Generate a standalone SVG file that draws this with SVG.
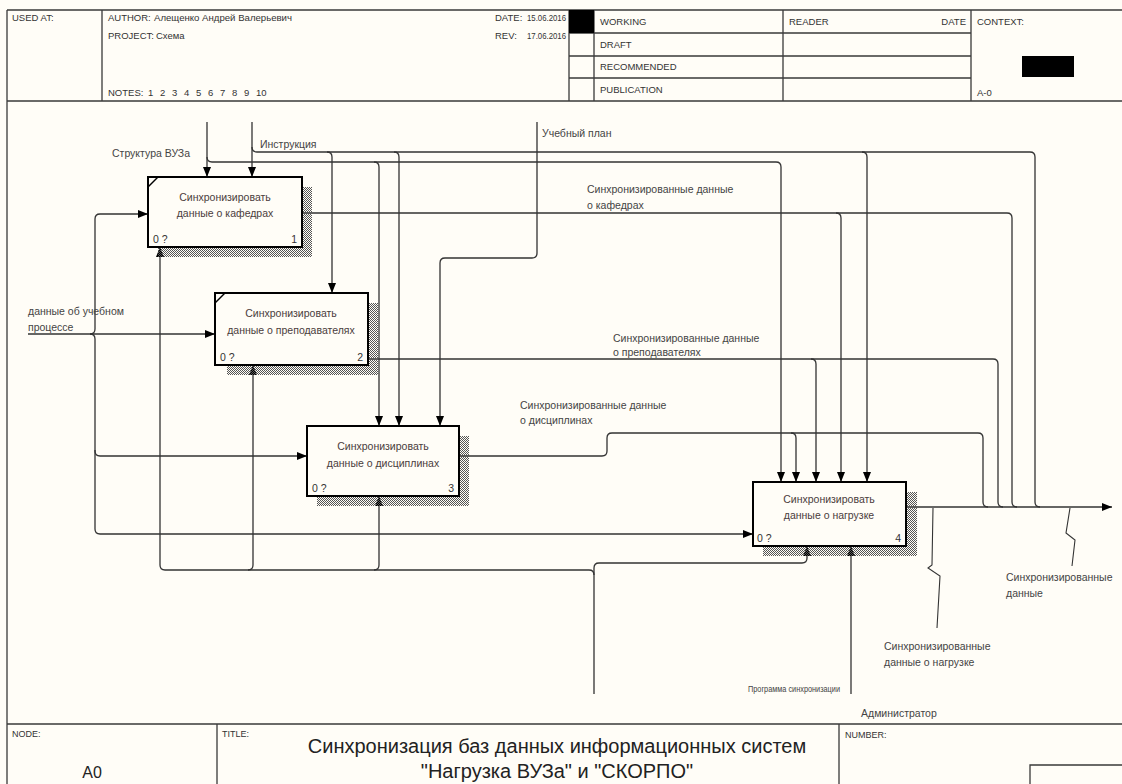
<svg xmlns="http://www.w3.org/2000/svg" width="1122" height="784" viewBox="0 0 1122 784">
<defs>
<style>
.bg{fill:#fffdf7}
.fr{fill:none;stroke:#3a3a3a;stroke-width:1.3}
.hd{font-family:"Liberation Sans",Arial,sans-serif;font-size:9.5px;fill:#333}
.sm{font-family:"Liberation Sans",Arial,sans-serif;font-size:9px;fill:#333}
.box{fill:#fffdf7;stroke:#000;stroke-width:2}
.sh{fill:url(#hatch)}
.bt{font-family:"Liberation Sans",Arial,sans-serif;font-size:10.5px;fill:#4a3c3c;text-anchor:middle}
.bn{font-family:"Liberation Sans",Arial,sans-serif;font-size:10.5px;fill:#333}
.lb{font-family:"Liberation Sans",Arial,sans-serif;font-size:10.5px;fill:#444}
.ar{fill:none;stroke:#333;stroke-width:1.3}
.arm{fill:none;stroke:#333;stroke-width:1.3;marker-end:url(#ah)}
.ld{fill:none;stroke:#333;stroke-width:1.1}
.ttl{font-family:"Liberation Sans",Arial,sans-serif;font-size:20px;fill:#222;text-anchor:middle}
</style>
<pattern id="hatch" width="2" height="2" patternUnits="userSpaceOnUse">
<rect x="0" y="0" width="1" height="1" fill="#555"/>
<rect x="1" y="1" width="1" height="1" fill="#555"/>
</pattern>
<marker id="ah" markerWidth="10" markerHeight="8" refX="10" refY="4" orient="auto" markerUnits="userSpaceOnUse">
<path d="M0,0 L10,4 L0,8 z" fill="#000"/>
</marker>
</defs>
<rect class="bg" x="0" y="0" width="1122" height="784"/>

<g id="header">
<path class="fr" d="M7,10 H1122 M7,101 H1122 M7,10 V784 M102,10 V101 M569,10 V101 M594,10 V101 M783,10 V101 M971,10 V101 M569,33 H971 M569,56 H971 M569,78 H971"/>
<rect x="569" y="10" width="25" height="23" fill="#000"/>
<rect x="1022" y="56" width="52" height="21" fill="#000"/>
<text class="hd" x="12" y="21">USED AT:</text>
<text class="hd" x="108" y="21">AUTHOR:</text>
<text class="hd" x="154" y="21" textLength="138" lengthAdjust="spacingAndGlyphs">Алещенко Андрей Валерьевич</text>
<text class="hd" x="108" y="39">PROJECT:</text>
<text class="hd" x="156" y="39">Схема</text>
<text class="hd" x="108" y="96">NOTES:</text>
<text class="hd" y="96"><tspan x="148">1</tspan><tspan x="160">2</tspan><tspan x="172">3</tspan><tspan x="184">4</tspan><tspan x="196">5</tspan><tspan x="208">6</tspan><tspan x="220">7</tspan><tspan x="232">8</tspan><tspan x="244">9</tspan><tspan x="256">10</tspan></text>
<text class="hd" x="495" y="21">DATE:</text>
<text class="hd" x="527" y="21" textLength="39" lengthAdjust="spacingAndGlyphs">15.06.2016</text>
<text class="hd" x="495" y="39">REV:</text>
<text class="hd" x="527" y="39" textLength="39" lengthAdjust="spacingAndGlyphs">17.06.2016</text>
<text class="hd" x="600" y="25">WORKING</text>
<text class="hd" x="600" y="48">DRAFT</text>
<text class="hd" x="600" y="70">RECOMMENDED</text>
<text class="hd" x="600" y="93">PUBLICATION</text>
<text class="hd" x="789" y="25">READER</text>
<text class="hd" x="966" y="25" text-anchor="end">DATE</text>
<text class="hd" x="977" y="25">CONTEXT:</text>
<text class="hd" x="977" y="96">A-0</text>
</g>

<g id="footer">
<path class="fr" d="M7,724 H1122 M217,724 V784 M839,724 V784 M1030,784 V765 H1122"/>
<text class="sm" x="12" y="737">NODE:</text>
<text x="92" y="778" text-anchor="middle" style="font-family:'Liberation Sans',Arial,sans-serif;font-size:16px;fill:#222">A0</text>
<text class="sm" x="222" y="737">TITLE:</text>
<text class="ttl" x="557" y="753">Синхронизация баз данных информационных систем</text>
<text class="ttl" x="557" y="778">"Нагрузка ВУЗа" и "СКОРПО"</text>
<text class="sm" x="845" y="738">NUMBER:</text>
</g>

<g id="connectors">
<path class="arm" d="M207,122 L207,177"/>
<path class="arm" d="M207,157 Q207,162 212,162 L776,162 Q781,162 781,167 L781,482"/>
<path class="arm" d="M374,162 Q379,162 379,167 L379,426"/>
<path class="arm" d="M252,122 L252,177"/>
<path class="ar" d="M252,147 Q252,152 257,152 L1030,152 Q1035,152 1035,157 L1035,502 Q1035,507 1040,507"/>
<path class="arm" d="M327,152 Q332,152 332,157 L332,293"/>
<path class="arm" d="M394,152 Q399,152 399,157 L399,426"/>
<path class="arm" d="M862,152 Q867,152 867,157 L867,482"/>
<path class="arm" d="M537,122 L537,253 Q537,258 532,258 L445,258 Q440,258 440,263 L440,426"/>
<path class="ar" d="M302,213 L1007,213 Q1012,213 1012,218 L1012,502 Q1012,507 1017,507"/>
<path class="arm" d="M836,213 Q841,213 841,218 L841,482"/>
<path class="ar" d="M368,359 L993,359 Q998,359 998,364 L998,502 Q998,507 1003,507"/>
<path class="arm" d="M811,359 Q816,359 816,364 L816,482"/>
<path class="ar" d="M459,456 L602,456 Q607,456 607,451 L607,438 Q607,433 612,433 L978,433 Q983,433 983,438 L983,502 Q983,507 988,507"/>
<path class="arm" d="M791,433 Q796,433 796,438 L796,482"/>
<path class="arm" d="M906,507 L1112,507"/>
<path class="arm" d="M28,334 L215,334"/>
<path class="arm" d="M90,334 Q95,334 95,329 L95,219 Q95,214 100,214 L148,214"/>
<path class="arm" d="M90,334 Q95,334 95,339 L95,451 Q95,456 100,456 L307,456"/>
<path class="arm" d="M95,450 L95,529 Q95,534 100,534 L753,534"/>
<path class="arm" d="M594,694 L594,568 Q594,563 599,563 L802,563 Q807,563 807,558 L807,546"/>
<path class="arm" d="M594,575 Q594,570 589,570 L165,570 Q160,570 160,565 L160,247"/>
<path class="arm" d="M248,570 Q253,570 253,565 L253,365"/>
<path class="arm" d="M374,570 Q379,570 379,565 L379,496"/>
<path class="arm" d="M851,694 L851,546"/>
<path class="ld" d="M933,508 L932,565 L928,568 L940,576 L937,628"/>
<path class="ld" d="M1070,508 L1066,533 L1075,540 L1072,566"/>
</g>

<g id="labels">
<text class="lb" x="112" y="157">Структура ВУЗа</text>
<text class="lb" x="260" y="148">Инструкция</text>
<text class="lb" x="542" y="137">Учебный план</text>
<text class="lb" x="587" y="193">Синхронизированные данные</text>
<text class="lb" x="587" y="209">о кафедрах</text>
<text class="lb" x="613" y="342">Синхронизированные данные</text>
<text class="lb" x="613" y="356">о преподавателях</text>
<text class="lb" x="520" y="409">Синхронизированные данные</text>
<text class="lb" x="520" y="424">о дисциплинах</text>
<text class="lb" x="28" y="315">данные об учебном</text>
<text class="lb" x="28" y="331">процессе</text>
<text class="lb" x="1006" y="581">Синхронизированные</text>
<text class="lb" x="1006" y="597">данные</text>
<text class="lb" x="884" y="650">Синхронизированные</text>
<text class="lb" x="884" y="666">данные о нагрузке</text>
<text class="lb" x="748" y="692" textLength="92" lengthAdjust="spacingAndGlyphs" style="font-size:9.5px">Программа синхронизации</text>
<text class="lb" x="861" y="717">Администратор</text>
</g>

<g id="node1">
<path class="sh" d="M302,187 H312 V257 H158 V247 H302 Z"/>
<rect class="box" x="148" y="177" width="154" height="70"/>
<path d="M148,187 L158,177" stroke="#000" stroke-width="1.5"/>
<text class="bt" x="225" y="201">Синхронизировать</text>
<text class="bt" x="225" y="217">данные о кафедрах</text>
<text class="bn" x="153" y="243">0 ?</text>
<text class="bn" x="297" y="243" text-anchor="end">1</text>
</g>

<g id="node2">
<path class="sh" d="M368,303 H378 V375 H227 V365 H368 Z"/>
<rect class="box" x="215" y="293" width="153" height="72"/>
<path d="M215,303 L225,293" stroke="#000" stroke-width="1.5"/>
<text class="bt" x="291" y="317">Синхронизировать</text>
<text class="bt" x="291" y="334">данные о преподавателях</text>
<text class="bn" x="220" y="361">0 ?</text>
<text class="bn" x="363" y="361" text-anchor="end">2</text>
</g>

<g id="node3">
<path class="sh" d="M459,436 H469 V506 H317 V496 H459 Z"/>
<rect class="box" x="307" y="426" width="152" height="70"/>
<text class="bt" x="383" y="450">Синхронизировать</text>
<text class="bt" x="383" y="467">данные о дисциплинах</text>
<text class="bn" x="312" y="492">0 ?</text>
<text class="bn" x="454" y="492" text-anchor="end">3</text>
</g>

<g id="node4">
<path class="sh" d="M906,492 H917 V556 H763 V546 H906 Z"/>
<rect class="box" x="753" y="482" width="153" height="64"/>
<text class="bt" x="829" y="503">Синхронизировать</text>
<text class="bt" x="829" y="519">данные о нагрузке</text>
<text class="bn" x="757" y="542">0 ?</text>
<text class="bn" x="901" y="542" text-anchor="end">4</text>
</g>
</svg>
